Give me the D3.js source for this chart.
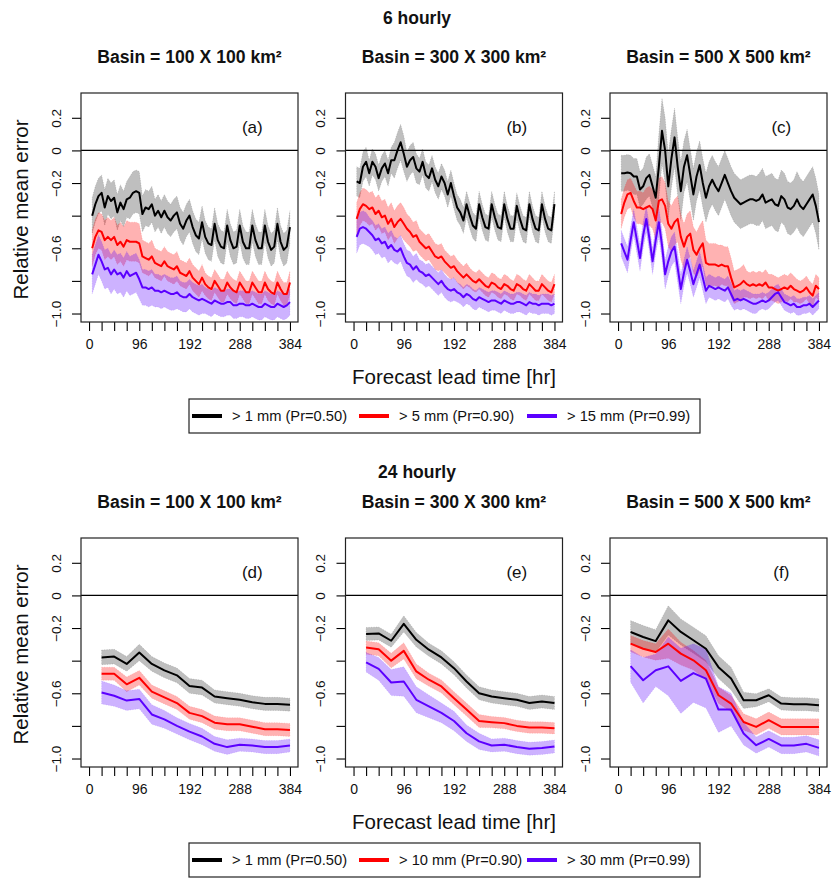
<!DOCTYPE html>
<html>
<head>
<meta charset="utf-8">
<script src="https://cdn.jsdelivr.net/npm/d3@7"></script>
<style>
  body { margin: 0; background: #fff; }
  svg { display: block; }
</style>
</head>
<body>
<svg id="fig" width="835" height="878"></svg>
<script>
// ---- lead times (hours) ----
const hours6 = [6,12,18,24,30,36,42,48,54,60,66,72,78,84,90,96,102,108,114,120,126,132,138,144,
  150,156,162,168,174,180,186,192,198,204,210,216,222,228,234,240,246,252,258,264,270,276,282,288,
  294,300,306,312,318,324,330,336,342,348,354,360,366,372,378,384];
const hours24 = [24,48,72,96,120,144,168,192,216,240,264,288,312,336,360,384];

// ---- axis ticks ----
const xTickValues = [0,24,48,72,96,120,144,168,192,216,240,264,288,312,336,360,384];
const xTickLabels = [0,96,192,288,384];
const yTickValues = [0.2,0,-0.2,-0.4,-0.6,-0.8,-1.0];
const yTickLabels = [0.2,0,-0.2,-0.6,-1.0];

// ---- legend labels ----
const legend6 = ["> 1 mm (Pr=0.50)", "> 5 mm (Pr=0.90)", "> 15 mm (Pr=0.99)"];
const legend24 = ["> 1 mm (Pr=0.50)", "> 10 mm (Pr=0.90)", "> 30 mm (Pr=0.99)"];
const basinTitles = ["Basin = 100 X 100 km\u00B2", "Basin = 300 X 300 km\u00B2", "Basin = 500 X 500 km\u00B2"];
const panelTags = ["(a)","(b)","(c)","(d)","(e)","(f)"];

// ---- 6 hourly: relative mean error (64 lead times), band half-widths per day (16) ----
const a_p50 = [-0.40,-0.33,-0.28,-0.26, -0.35,-0.28,-0.31,-0.29, -0.38,-0.32,-0.36,-0.30, -0.29,-0.26,-0.25,-0.26,
  -0.39,-0.35,-0.36,-0.33, -0.40,-0.37,-0.41,-0.37, -0.41,-0.43,-0.40,-0.38, -0.45,-0.48,-0.43,-0.40,
  -0.47,-0.52,-0.54,-0.44, -0.53,-0.57,-0.58,-0.45, -0.55,-0.59,-0.60,-0.46, -0.55,-0.60,-0.59,-0.46,
  -0.56,-0.60,-0.60,-0.46, -0.55,-0.60,-0.60,-0.46, -0.56,-0.61,-0.59,-0.45, -0.56,-0.61,-0.59,-0.47];
const a_p90 = [-0.60,-0.53,-0.49,-0.50, -0.55,-0.53,-0.55,-0.53, -0.58,-0.56,-0.59,-0.55, -0.56,-0.56,-0.56,-0.57,
  -0.65,-0.66,-0.67,-0.65, -0.69,-0.70,-0.71,-0.68, -0.71,-0.72,-0.73,-0.71, -0.75,-0.76,-0.77,-0.74,
  -0.78,-0.80,-0.82,-0.78, -0.82,-0.84,-0.85,-0.80, -0.83,-0.86,-0.86,-0.81, -0.84,-0.86,-0.87,-0.81,
  -0.84,-0.87,-0.87,-0.81, -0.84,-0.87,-0.87,-0.81, -0.85,-0.87,-0.88,-0.81, -0.85,-0.88,-0.88,-0.81];
const a_p99 = [-0.76,-0.70,-0.64,-0.68, -0.73,-0.72,-0.76,-0.73, -0.76,-0.75,-0.78,-0.74, -0.77,-0.76,-0.75,-0.79,
  -0.84,-0.84,-0.85,-0.84, -0.86,-0.86,-0.87,-0.86, -0.87,-0.88,-0.88,-0.87, -0.89,-0.90,-0.90,-0.88,
  -0.90,-0.91,-0.92,-0.91, -0.92,-0.93,-0.94,-0.92, -0.93,-0.94,-0.94,-0.93, -0.93,-0.95,-0.95,-0.94,
  -0.94,-0.95,-0.95,-0.94, -0.95,-0.96,-0.96,-0.94, -0.95,-0.96,-0.96,-0.94, -0.95,-0.96,-0.95,-0.93];
const a_w50 = [0.11,0.11,0.11,0.13,0.11,0.10,0.10,0.10,0.10,0.10,0.10,0.10,0.10,0.10,0.10,0.10];
const a_w90 = [0.11,0.12,0.12,0.12,0.10,0.09,0.09,0.08,0.08,0.07,0.07,0.07,0.07,0.07,0.07,0.07];
const a_w99 = [0.12,0.12,0.12,0.12,0.11,0.10,0.10,0.09,0.09,0.08,0.08,0.08,0.08,0.08,0.08,0.08];

const b_p50 = [-0.19,-0.20,-0.10,-0.07, -0.14,-0.07,-0.10,-0.17, -0.11,-0.08,-0.14,-0.06, -0.06,0.00,0.05,-0.02,
  -0.10,-0.06,-0.04,-0.11, -0.13,-0.07,-0.15,-0.17, -0.11,-0.18,-0.22,-0.16, -0.20,-0.27,-0.20,-0.28,
  -0.35,-0.38,-0.43,-0.33, -0.40,-0.46,-0.48,-0.33, -0.41,-0.47,-0.48,-0.33, -0.41,-0.47,-0.48,-0.33,
  -0.42,-0.48,-0.48,-0.34, -0.42,-0.48,-0.49,-0.33, -0.42,-0.48,-0.49,-0.33, -0.42,-0.48,-0.49,-0.33];
const b_p90 = [-0.42,-0.36,-0.33,-0.34, -0.36,-0.35,-0.39,-0.37, -0.41,-0.40,-0.45,-0.42, -0.47,-0.44,-0.42,-0.45,
  -0.48,-0.50,-0.53,-0.52, -0.56,-0.58,-0.60,-0.59, -0.62,-0.65,-0.66,-0.65, -0.68,-0.70,-0.72,-0.71,
  -0.74,-0.76,-0.78,-0.76, -0.78,-0.80,-0.81,-0.79, -0.81,-0.83,-0.84,-0.81, -0.82,-0.84,-0.85,-0.82,
  -0.83,-0.85,-0.86,-0.82, -0.83,-0.85,-0.86,-0.82, -0.84,-0.86,-0.86,-0.82, -0.84,-0.86,-0.87,-0.82];
const b_p99 = [-0.53,-0.48,-0.47,-0.48, -0.50,-0.52,-0.55,-0.54, -0.57,-0.56,-0.60,-0.58, -0.61,-0.62,-0.60,-0.65,
  -0.69,-0.70,-0.73,-0.71, -0.74,-0.75,-0.77,-0.76, -0.78,-0.80,-0.82,-0.80, -0.83,-0.85,-0.86,-0.85,
  -0.87,-0.88,-0.90,-0.88, -0.89,-0.91,-0.92,-0.90, -0.91,-0.92,-0.93,-0.92, -0.92,-0.93,-0.94,-0.92,
  -0.93,-0.94,-0.94,-0.93, -0.93,-0.94,-0.95,-0.93, -0.94,-0.94,-0.95,-0.94, -0.94,-0.94,-0.95,-0.94];
const b_w50 = [0.09,0.08,0.08,0.11,0.09,0.08,0.08,0.08,0.08,0.08,0.08,0.08,0.08,0.08,0.08,0.08];
const b_w90 = [0.10,0.10,0.10,0.10,0.09,0.08,0.08,0.07,0.07,0.06,0.06,0.06,0.06,0.06,0.06,0.06];
const b_w99 = [0.10,0.09,0.09,0.08,0.08,0.07,0.07,0.07,0.06,0.06,0.06,0.06,0.06,0.06,0.06,0.06];

const c_p50 = [-0.14,-0.14,-0.135,-0.14, -0.16,-0.16,-0.24,-0.22, -0.17,-0.15,-0.22,-0.29, -0.10,0.12,0.00,-0.22,
  -0.05,0.08,-0.10,-0.25, -0.10,-0.03,-0.15,-0.27, -0.16,-0.09,-0.20,-0.29, -0.22,-0.18,-0.22,-0.25,
  -0.20,-0.15,-0.20,-0.25, -0.29,-0.31,-0.33,-0.32, -0.31,-0.30,-0.30,-0.31, -0.30,-0.27,-0.32,-0.31,
  -0.30,-0.33,-0.34,-0.28, -0.30,-0.35,-0.36,-0.34, -0.30,-0.34,-0.36,-0.33, -0.30,-0.27,-0.34,-0.44];
const c_p90 = [-0.39,-0.32,-0.27,-0.26, -0.31,-0.35,-0.35,-0.36, -0.35,-0.34,-0.36,-0.43, -0.31,-0.30,-0.34,-0.45,
  -0.48,-0.44,-0.42,-0.53, -0.59,-0.53,-0.51,-0.61, -0.64,-0.60,-0.57,-0.69, -0.70,-0.70,-0.70,-0.71,
  -0.70,-0.71,-0.71,-0.78, -0.84,-0.83,-0.82,-0.80, -0.82,-0.83,-0.82,-0.83, -0.82,-0.83,-0.81,-0.84,
  -0.84,-0.85,-0.86,-0.85, -0.84,-0.85,-0.83,-0.85, -0.86,-0.87,-0.86,-0.84, -0.87,-0.89,-0.83,-0.85];
const c_p99 = [-0.57,-0.62,-0.67,-0.55, -0.44,-0.55,-0.66,-0.52, -0.42,-0.54,-0.68,-0.55, -0.44,-0.58,-0.76,-0.68,
  -0.62,-0.59,-0.72,-0.85, -0.75,-0.67,-0.74,-0.82, -0.76,-0.70,-0.78,-0.86, -0.83,-0.84,-0.85,-0.84,
  -0.85,-0.86,-0.84,-0.88, -0.92,-0.91,-0.92,-0.91, -0.92,-0.93,-0.94,-0.94, -0.93,-0.92,-0.93,-0.92,
  -0.90,-0.88,-0.87,-0.90, -0.93,-0.94,-0.95,-0.94, -0.96,-0.96,-0.95,-0.95, -0.94,-0.96,-0.94,-0.92];
const c_w50 = [0.11,0.11,0.13,0.20,0.18,0.16,0.15,0.15,0.15,0.15,0.15,0.16,0.16,0.16,0.17,0.17];
const c_w90 = [0.09,0.10,0.12,0.14,0.14,0.14,0.14,0.13,0.12,0.10,0.08,0.08,0.08,0.08,0.07,0.07];
const c_w99 = [0.08,0.08,0.08,0.09,0.09,0.08,0.08,0.07,0.07,0.06,0.06,0.05,0.05,0.05,0.05,0.05];

// ---- 24 hourly: relative mean error (16 lead times) and band half-widths ----
const d_p50 = [-0.38,-0.375,-0.42,-0.35,-0.42,-0.46,-0.49,-0.555,-0.565,-0.62,-0.63,-0.64,-0.655,-0.665,-0.665,-0.67];
const d_p90 = [-0.48,-0.48,-0.545,-0.505,-0.59,-0.625,-0.66,-0.72,-0.74,-0.78,-0.79,-0.79,-0.805,-0.82,-0.82,-0.825];
const d_p99 = [-0.595,-0.615,-0.645,-0.635,-0.73,-0.76,-0.80,-0.835,-0.865,-0.91,-0.93,-0.915,-0.92,-0.93,-0.93,-0.92];
const d_w50 = [0.045,0.045,0.045,0.05,0.045,0.045,0.045,0.045,0.045,0.04,0.04,0.04,0.04,0.04,0.04,0.04];
const d_w90 = [0.04,0.04,0.045,0.045,0.04,0.04,0.04,0.04,0.04,0.04,0.04,0.04,0.04,0.04,0.04,0.04];
const d_w99 = [0.07,0.065,0.06,0.06,0.06,0.055,0.05,0.05,0.05,0.045,0.045,0.04,0.04,0.04,0.04,0.04];

const e_p50 = [-0.237,-0.233,-0.278,-0.174,-0.272,-0.333,-0.38,-0.446,-0.528,-0.60,-0.62,-0.63,-0.64,-0.66,-0.65,-0.66];
const e_p90 = [-0.32,-0.33,-0.40,-0.34,-0.466,-0.517,-0.558,-0.63,-0.70,-0.77,-0.777,-0.783,-0.80,-0.81,-0.81,-0.814];
const e_p99 = [-0.41,-0.45,-0.534,-0.528,-0.64,-0.68,-0.72,-0.77,-0.845,-0.895,-0.92,-0.915,-0.93,-0.94,-0.936,-0.926];
const e_w50 = [0.04,0.04,0.04,0.05,0.045,0.04,0.04,0.04,0.04,0.04,0.04,0.04,0.04,0.04,0.04,0.04];
const e_w90 = [0.04,0.04,0.045,0.05,0.045,0.04,0.04,0.04,0.04,0.04,0.035,0.035,0.035,0.035,0.035,0.035];
const e_w99 = [0.06,0.07,0.08,0.09,0.08,0.07,0.06,0.06,0.05,0.05,0.04,0.04,0.04,0.04,0.04,0.04];

const f_p50 = [-0.224,-0.255,-0.28,-0.153,-0.224,-0.275,-0.327,-0.44,-0.51,-0.643,-0.643,-0.612,-0.663,-0.667,-0.667,-0.673];
const f_p90 = [-0.296,-0.327,-0.347,-0.296,-0.357,-0.398,-0.459,-0.612,-0.663,-0.776,-0.806,-0.765,-0.806,-0.806,-0.806,-0.806];
const f_p99 = [-0.433,-0.52,-0.459,-0.435,-0.524,-0.476,-0.51,-0.70,-0.70,-0.847,-0.918,-0.88,-0.92,-0.92,-0.91,-0.935];
const f_w50 = [0.07,0.07,0.07,0.09,0.08,0.08,0.08,0.07,0.07,0.05,0.04,0.04,0.04,0.04,0.04,0.04];
const f_w90 = [0.05,0.05,0.05,0.09,0.07,0.06,0.06,0.05,0.05,0.05,0.05,0.05,0.05,0.05,0.05,0.05];
const f_w99 = [0.10,0.14,0.10,0.18,0.20,0.18,0.18,0.14,0.10,0.07,0.05,0.05,0.05,0.05,0.05,0.05];

// ---- panel table ----
const panels = [
  { tag: panelTags[0], row: 0, col: 0, hours: hours6, vals: [a_p50, a_p90, a_p99], widths: [a_w50, a_w90, a_w99] },
  { tag: panelTags[1], row: 0, col: 1, hours: hours6, vals: [b_p50, b_p90, b_p99], widths: [b_w50, b_w90, b_w99] },
  { tag: panelTags[2], row: 0, col: 2, hours: hours6, vals: [c_p50, c_p90, c_p99], widths: [c_w50, c_w90, c_w99] },
  { tag: panelTags[3], row: 1, col: 0, hours: hours24, vals: [d_p50, d_p90, d_p99], widths: [d_w50, d_w90, d_w99] },
  { tag: panelTags[4], row: 1, col: 1, hours: hours24, vals: [e_p50, e_p90, e_p99], widths: [e_w50, e_w90, e_w99] },
  { tag: panelTags[5], row: 1, col: 2, hours: hours24, vals: [f_p50, f_p90, f_p99], widths: [f_w50, f_w90, f_w99] }
];

// ---- layout & style ----
const FONT = "'Liberation Sans', Arial, Helvetica, sans-serif";
const plotW = 217, plotH = 229;
const colLeft = [81, 345.5, 610];
const rowTop = [93, 538];
const lineColor = ["#000000", "#ff0000", "#5b00ff"];
const bandColor = ["rgba(0,0,0,0.25)", "rgba(255,0,0,0.3)", "rgba(91,0,255,0.3)"];

const svg = d3.select("#fig").style("font-family", FONT);

const x = d3.scaleLinear().domain([-15.36, 399.36]).range([0, plotW]);
const y = d3.scaleLinear().domain([-1.052, 0.352]).range([plotH, 0]);

const fmt = v => (v < 0 ? "\u2212" : "") + (v === 0 ? "0" : Math.abs(v).toFixed(1));

panels.forEach((p, pi) => {
  const g = svg.append("g").attr("transform", `translate(${colLeft[p.col]},${rowTop[p.row]})`);
  const clipId = "clip" + pi;
  g.append("clipPath").attr("id", clipId)
    .append("rect").attr("width", plotW).attr("height", plotH);
  const plot = g.append("g").attr("clip-path", `url(#${clipId})`);

  const stride = p.hours.length / p.widths[0].length;
  const seriesPts = p.vals.map((vals, k) =>
    vals.map((v, i) => ({ h: p.hours[i], v, w: p.widths[k][Math.floor(i / stride)] })));

  const band = d3.area().x(d => x(d.h)).y0(d => y(d.v - d.w)).y1(d => y(d.v + d.w));
  const line = d3.line().x(d => x(d.h)).y(d => y(d.v));

  // uncertainty bands
  seriesPts.forEach((pts, k) => {
    plot.append("path").attr("d", band(pts))
      .attr("fill", bandColor[k])
      .attr("stroke", lineColor[k]).attr("stroke-opacity", 0.18)
      .attr("stroke-width", 0.8).attr("stroke-dasharray", "1,1.5");
  });
  // mean lines
  seriesPts.forEach((pts, k) => {
    plot.append("path").attr("d", line(pts))
      .attr("fill", "none").attr("stroke", lineColor[k])
      .attr("stroke-width", 2).attr("stroke-linejoin", "round");
  });

  // zero reference line
  g.append("line").attr("x1", 0).attr("x2", plotW)
    .attr("y1", y(0)).attr("y2", y(0)).attr("stroke", "#000").attr("stroke-width", 1.1);

  // axes
  const xa = g.append("g").attr("transform", `translate(0,${plotH})`)
    .call(d3.axisBottom(x).tickValues(xTickValues).tickSize(9).tickPadding(8)
      .tickFormat(d => xTickLabels.includes(d) ? String(d) : ""));
  xa.select(".domain").remove();
  xa.selectAll("line").attr("stroke", "#000").attr("stroke-width", 1.1);
  xa.selectAll("text").attr("font-family", FONT).attr("font-size", 14).attr("fill", "#111");

  const ya = g.append("g")
    .call(d3.axisLeft(y).tickValues(yTickValues).tickSize(9)
      .tickFormat(d => yTickLabels.includes(d) ? fmt(d) : ""));
  ya.select(".domain").remove();
  ya.selectAll("line").attr("stroke", "#000").attr("stroke-width", 1.1);
  ya.selectAll("text")
    .attr("x", null).attr("dy", null)
    .attr("text-anchor", "middle")
    .attr("transform", "translate(-25,0) rotate(-90)")
    .attr("dy", "0.36em")
    .attr("font-family", FONT).attr("font-size", 13.5).attr("fill", "#111");

  // frame
  g.append("rect").attr("width", plotW).attr("height", plotH)
    .attr("fill", "none").attr("stroke", "#222").attr("stroke-width", 1.2);

  // panel tag
  g.append("text").attr("x", x(312)).attr("y", y(0.145)).attr("dy", "0.36em")
    .attr("text-anchor", "middle").attr("font-size", 17).attr("fill", "#111").text(p.tag);

  // basin title
  svg.append("text")
    .attr("x", colLeft[p.col] + plotW / 2).attr("y", rowTop[p.row] - 36)
    .attr("dy", "0.36em").attr("text-anchor", "middle")
    .attr("font-size", 17.6).attr("font-weight", "bold").attr("fill", "#111")
    .text(basinTitles[p.col]);
});

// row titles, axis titles and legends
const rowTitles = ["6 hourly", "24 hourly"];
const legends = [legend6, legend24];
const rowTitleY = [18, 472];
const legendY = [416, 860];

[0, 1].forEach(r => {
  svg.append("text").attr("x", 417).attr("y", rowTitleY[r]).attr("dy", "0.36em")
    .attr("text-anchor", "middle").attr("font-size", 17.5).attr("font-weight", "bold")
    .attr("fill", "#111").text(rowTitles[r]);

  svg.append("text")
    .attr("transform", `translate(21,${rowTop[r] + plotH / 2 + 2}) rotate(-90)`)
    .attr("dy", "0.36em").attr("text-anchor", "middle")
    .attr("font-size", 20.5).attr("fill", "#111").text("Relative mean error");

  svg.append("text")
    .attr("x", colLeft[1] + plotW / 2).attr("y", rowTop[r] + plotH + 55)
    .attr("dy", "0.36em").attr("text-anchor", "middle")
    .attr("font-size", 20.5).attr("fill", "#111").text("Forecast lead time [hr]");

  const lg = svg.append("g");
  lg.append("rect").attr("x", 189).attr("y", legendY[r] - 17).attr("width", 511).attr("height", 34)
    .attr("fill", "#fff").attr("stroke", "#222").attr("stroke-width", 1.2);
  const segX = [192, 359, 527];
  legends[r].forEach((label, k) => {
    lg.append("line").attr("x1", segX[k]).attr("x2", segX[k] + 30)
      .attr("y1", legendY[r]).attr("y2", legendY[r])
      .attr("stroke", lineColor[k]).attr("stroke-width", 4);
    lg.append("text").attr("x", segX[k] + 40).attr("y", legendY[r]).attr("dy", "0.36em")
      .attr("font-size", 14.7).attr("fill", "#111").text(label);
  });
});
</script>
</body>
</html>
